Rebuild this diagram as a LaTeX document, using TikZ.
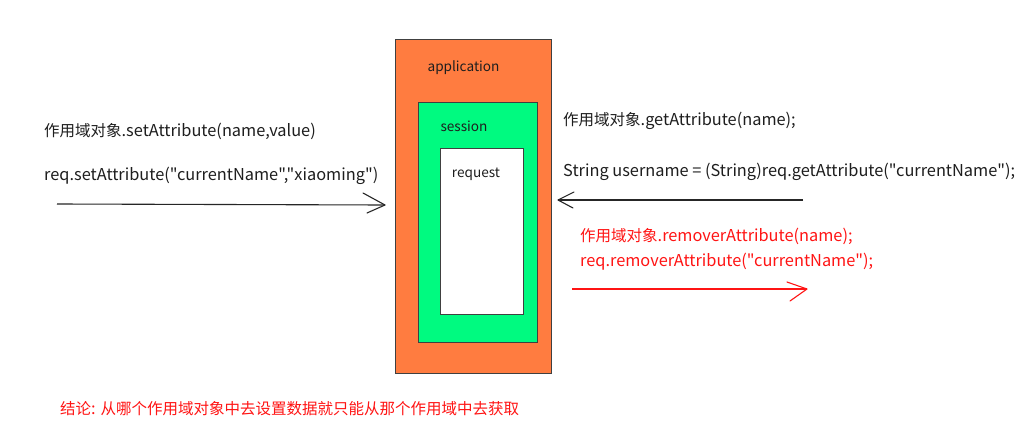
\documentclass[tikz,border=0pt]{standalone}
\usepackage{fontspec}
\newfontfamily\cjkf{Noto Sans CJK SC}
\newfontfamily\latf{Noto Sans CJK SC}[Scale=1.055]
\newcommand{\zh}[1]{{\cjkf #1}}
\begin{document}
\begin{tikzpicture}[x=1pt,y=-1pt,
  box/.style={draw=black!75,line width=0.9pt},
  lbl/.style={anchor=west,inner sep=0pt,font=\latf\fontsize{15.5}{17}\selectfont},
  boxlbl/.style={anchor=center,inner sep=0pt,text=txt,font=\latf\fontsize{12.9}{15}\selectfont},
  conn/.style={line width=1.1pt},
  chev/.style={line width=1.1pt,line cap=round,line join=round}]
\definecolor{appor}{RGB}{255,124,64}
\definecolor{sessgr}{RGB}{0,250,128}
\definecolor{redtxt}{RGB}{255,20,20}
\definecolor{txt}{RGB}{30,30,30}
\useasboundingbox[fill=white] (0,0) rectangle (1034,447);
% nested boxes
\filldraw[box,fill=appor] (395,39) rectangle (551,373);
\filldraw[box,fill=sessgr] (418,102) rectangle (537,342);
\filldraw[box,fill=white] (440,148) rectangle (523,314);
\node[boxlbl] (app) at (463.5,68) {application};
\node[boxlbl] (sess) at (464,126) {session};
\node[boxlbl] (req) at (476,174) {request};
% left texts
\node[lbl,text=txt] (set1) at (44,131) {\zh{作用域对象}.setAttribute(name,value)};
\node[lbl,text=txt] (set2) at (44,176) {req.setAttribute("currentName","xiaoming")};
% right texts
\node[lbl,text=txt] (get1) at (563,121) {\zh{作用域对象}.getAttribute(name);};
\node[lbl,text=txt] (get2) at (563,172) {String username = (String)req.getAttribute("currentName");};
\node[lbl,text=redtxt] (rm1) at (580,236) {\zh{作用域对象}.removerAttribute(name);};
\node[lbl,text=redtxt] (rm2) at (580,262) {req.removerAttribute("currentName");};
\node[lbl,text=redtxt] (concl) at (60,409) {\zh{结论}: \zh{从哪个作用域对象中去设置数据就只能从那个作用域中去获取}};
% arrows
\coordinate (la) at (57,204);
\coordinate (lb) at (385,205);
\draw[conn,black!85] (la) -- (lb);
\draw[chev,black!85] (363,193) -- (lb) -- (367,213);
\coordinate (ra) at (803,200);
\coordinate (rb) at (558,200);
\draw[conn,black!85] (ra) -- (rb);
\draw[chev,black!85] (574,192) -- (rb) -- (573,208);
\coordinate (ma) at (572,289);
\coordinate (mb) at (807,289);
\draw[conn,redtxt] (ma) -- (mb);
\draw[chev,redtxt] (787,282) -- (mb) -- (790,301);
\end{tikzpicture}
\end{document}
